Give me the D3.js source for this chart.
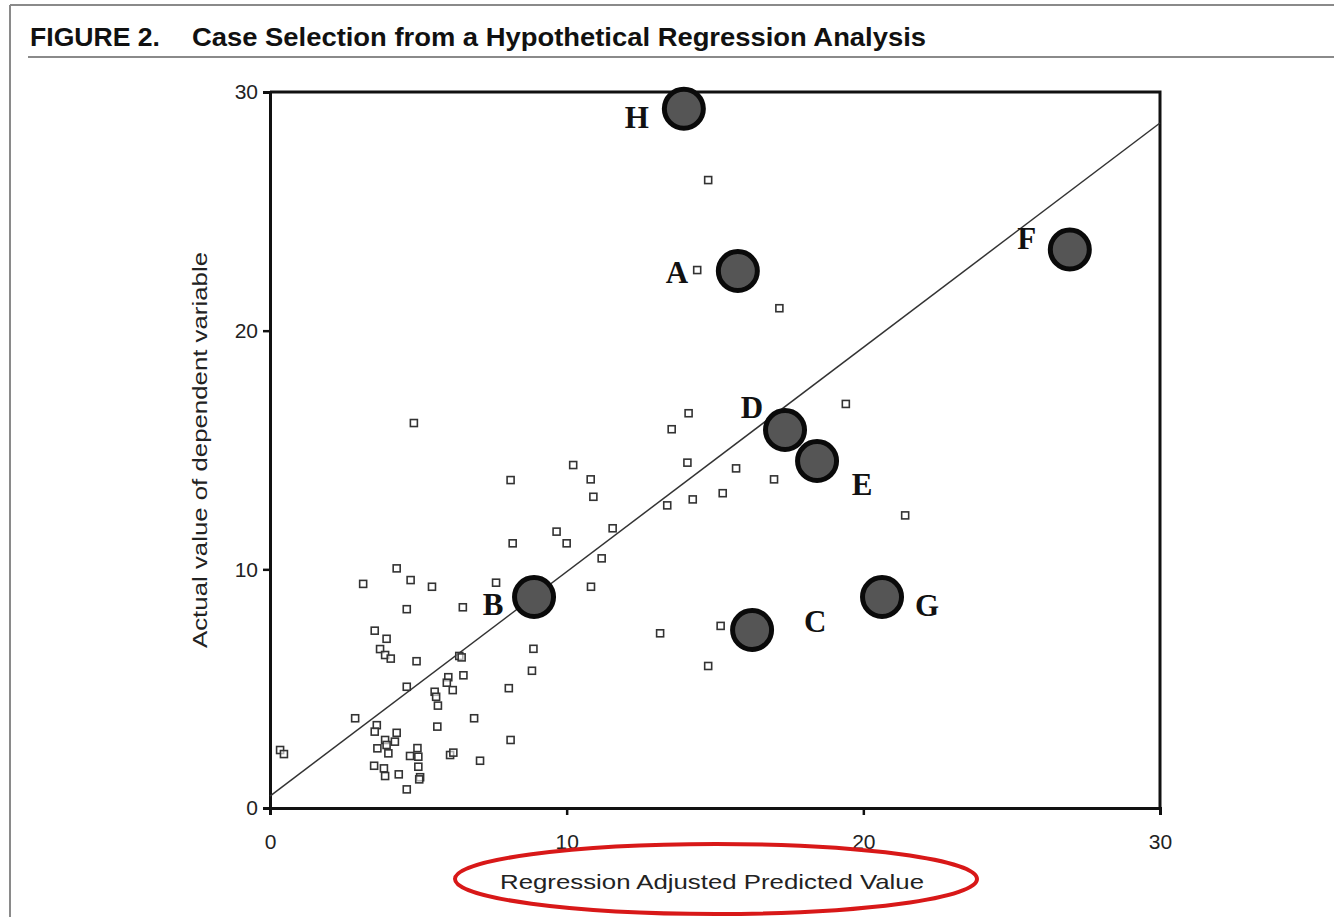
<!DOCTYPE html>
<html><head><meta charset="utf-8">
<script src="https://cdn.jsdelivr.net/npm/d3@7"></script>
<style>body{margin:0;background:#fff}svg{display:block}</style>
</head><body>
<script>
// ---- data ----
const caseLabels = ["H","A","F","D","E","B","C","G"];
const caseX = [13.95,15.77,26.96,17.36,18.44,8.90,16.25,20.63];
const caseY = [29.3,22.5,23.4,15.84,14.54,8.84,7.46,8.84];
const otherX = [0.34,0.47,4.85,4.27,3.14,4.74,5.46,7.62,4.61,6.50,8.18,10.0,3.53,3.93,3.71,3.88,4.07,4.94,6.38,6.46,8.88,8.83,6.52,6.01,5.96,6.16,4.61,5.55,5.60,5.66,8.05,6.88,2.87,3.60,3.53,4.27,3.88,3.93,4.21,3.62,3.99,4.97,4.72,5.00,5.64,6.07,6.18,8.11,7.08,3.51,3.84,3.88,4.34,5.00,5.06,5.03,4.61,14.11,13.54,19.41,10.22,14.07,15.71,8.11,10.81,10.90,16.99,15.26,14.25,13.39,21.41,11.55,9.66,11.18,10.82,13.15,15.19,14.77,14.77,14.40,17.17];
const otherY = [2.43,2.26,16.13,10.04,9.39,9.55,9.27,9.44,8.33,8.41,11.09,11.09,7.43,7.09,6.66,6.41,6.26,6.15,6.37,6.31,6.67,5.75,5.56,5.48,5.25,4.94,5.08,4.87,4.66,4.29,5.02,3.76,3.76,3.47,3.20,3.15,2.85,2.64,2.78,2.50,2.29,2.51,2.18,2.15,3.41,2.22,2.32,2.85,1.98,1.77,1.66,1.34,1.41,1.73,1.29,1.20,0.78,16.54,15.87,16.93,14.37,14.47,14.23,13.74,13.77,13.04,13.77,13.19,12.93,12.68,12.26,11.72,11.58,10.46,9.27,7.32,7.63,5.95,26.31,22.54,20.94];
const fitX = [0, 30];
const fitY = [0.5, 28.7];
const xTicks = [0,10,20,30];
const yTicks = [0,10,20,30];
const titleLead = "FIGURE 2.";
const titleText = "Case Selection from a Hypothetical Regression Analysis";
const xTitle = "Regression Adjusted Predicted Value";
const yTitle = "Actual value of dependent variable";

// ---- layout (label offsets in px) ----
const labelOffsets = [[-47,9],[-61,1],[-43,-11],[-33,-22],[45,24],[-41,7],[63,-8],[45,8]];

const W = 1334, H = 917;
const svg = d3.select("body").append("svg").attr("width", W).attr("height", H);

// page frame
svg.append("line").attr("x1",10).attr("x2",W).attr("y1",5).attr("y2",5).attr("stroke","#8a8a8a").attr("stroke-width",2);
svg.append("line").attr("x1",10).attr("x2",10).attr("y1",5).attr("y2",H).attr("stroke","#8a8a8a").attr("stroke-width",2);
svg.append("line").attr("x1",28).attr("x2",W).attr("y1",57).attr("y2",57).attr("stroke","#8a8a8a").attr("stroke-width",2);

// title
const tfont = "'Liberation Sans Narrow','Arial Narrow','Liberation Sans',Arial,sans-serif";
svg.append("text").attr("x",30).attr("y",46).text(titleLead)
  .attr("font-family",tfont).attr("font-weight","bold").attr("font-size",25).attr("fill","#111")
  .attr("textLength",130).attr("lengthAdjust","spacingAndGlyphs");
svg.append("text").attr("x",192).attr("y",46).text(titleText)
  .attr("font-family",tfont).attr("font-weight","bold").attr("font-size",25).attr("fill","#111")
  .attr("textLength",734).attr("lengthAdjust","spacingAndGlyphs");

const x = d3.scaleLinear().domain([0,30]).range([270,1160]);
const y = d3.scaleLinear().domain([0,30]).range([808,92]);

const afont = "'Liberation Sans',Arial,Helvetica,sans-serif";

// axes
const gx = svg.append("g").attr("transform","translate(0,808)")
  .call(d3.axisBottom(x).tickValues(xTicks).tickSize(7).tickPadding(19).tickFormat(d3.format("d")));
const gy = svg.append("g").attr("transform","translate(270,0)")
  .call(d3.axisLeft(y).tickValues(yTicks).tickSize(7).tickPadding(5).tickFormat(d3.format("d")));
[gx,gy].forEach(g=>{
  g.select(".domain").attr("stroke","#111").attr("stroke-width",3);
  g.selectAll(".tick line").attr("stroke","#111").attr("stroke-width",2.5);
  g.selectAll(".tick text").attr("font-family",afont).attr("font-size",21).attr("fill","#222");
});
// frame top & right
svg.append("path").attr("d",`M${x(0)},${y(30)}H${x(30)}V${y(0)}`)
  .attr("fill","none").attr("stroke","#111").attr("stroke-width",3);

// fit line
svg.append("line").attr("x1",x(fitX[0])).attr("y1",y(fitY[0])).attr("x2",x(fitX[1])).attr("y2",y(fitY[1]))
  .attr("stroke","#333").attr("stroke-width",1.5);

// small squares
const others = otherX.map((v,i)=>({x:v,y:otherY[i]}));
svg.append("g").selectAll("rect").data(others).join("rect")
  .attr("x",d=>x(d.x)-3.5).attr("y",d=>y(d.y)-3.5).attr("width",7).attr("height",7)
  .attr("fill","#fff").attr("fill-opacity",0.6).attr("stroke","#333").attr("stroke-width",1.6);

// cases
const cases = caseLabels.map((l,i)=>({l,x:caseX[i],y:caseY[i],o:labelOffsets[i]}));
svg.append("g").selectAll("circle").data(cases).join("circle")
  .attr("cx",d=>x(d.x)).attr("cy",d=>y(d.y)).attr("r",19.5)
  .attr("fill","#555").attr("stroke","#0a0a0a").attr("stroke-width",5);
svg.append("g").selectAll("text").data(cases).join("text")
  .attr("x",d=>x(d.x)+d.o[0]).attr("y",d=>y(d.y)+d.o[1])
  .attr("text-anchor","middle").attr("dominant-baseline","central")
  .attr("font-family","'Liberation Serif','Times New Roman',serif").attr("font-weight","bold")
  .attr("font-size",31).attr("fill","#111").text(d=>d.l);

// axis titles
svg.append("text").attr("transform","translate(207,450) rotate(-90)").attr("text-anchor","middle")
  .attr("font-family",afont).attr("font-size",20).attr("fill","#222").text(yTitle)
  .attr("textLength",396).attr("lengthAdjust","spacingAndGlyphs");
svg.append("text").attr("x",712).attr("y",889).attr("text-anchor","middle")
  .attr("font-family",afont).attr("font-size",21).attr("fill","#222").text(xTitle)
  .attr("textLength",424).attr("lengthAdjust","spacingAndGlyphs");

// red ellipse
svg.append("ellipse").attr("cx",716).attr("cy",879).attr("rx",261).attr("ry",35)
  .attr("fill","none").attr("stroke","#d81818").attr("stroke-width",4);
</script>
</body></html>
